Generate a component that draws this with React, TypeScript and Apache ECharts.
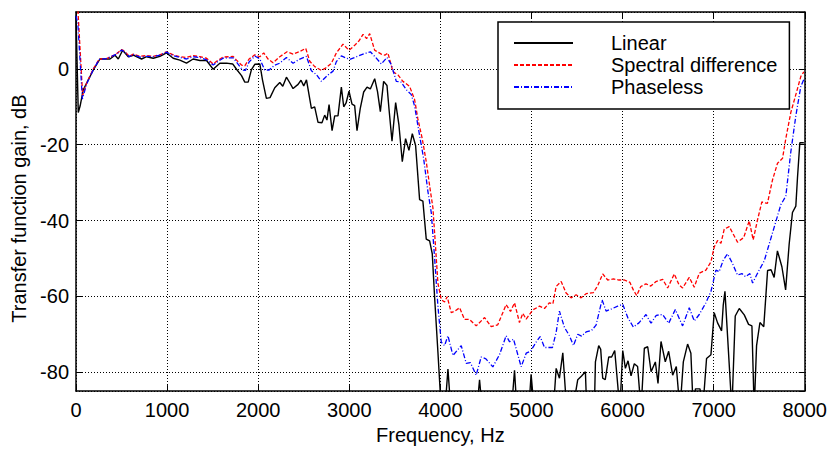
import React, { useEffect, useRef } from "react";
import * as echarts from "echarts";

const seriesNames = ["Linear", "Spectral difference", "Phaseless"];
const freqTicks = [0, 1000, 2000, 3000, 4000, 5000, 6000, 7000, 8000];

const linearFreq = [0, 25, 45, 80, 190, 263, 373, 428, 464, 512, 574, 629, 720, 775, 848, 921, 994, 1067, 1140, 1213, 1286, 1360, 1433, 1506, 1579, 1652, 1720, 1762, 1817, 1853, 1890, 1926, 1963, 2018, 2047, 2090, 2130, 2182, 2237, 2270, 2310, 2345, 2383, 2438, 2470, 2500, 2530, 2584, 2620, 2657, 2700, 2730, 2755, 2778, 2811, 2840, 2876, 2913, 2939, 2965, 2997, 3030, 3059, 3085, 3120, 3158, 3195, 3231, 3279, 3310, 3341, 3377, 3414, 3436, 3469, 3509, 3545, 3582, 3618, 3655, 3692, 3728, 3772, 3808, 3845, 3882, 3911, 3936, 3973, 4010, 4050, 4083, 4115, 4400, 4430, 4460, 4780, 4814, 4840, 4970, 4996, 5030, 5240, 5271, 5307, 5344, 5387, 5480, 5508, 5550, 5592, 5607, 5690, 5702, 5738, 5760, 5782, 5810, 5848, 5880, 5914, 5947, 5970, 6002, 6031, 6060, 6093, 6129, 6165, 6203, 6239, 6276, 6313, 6360, 6389, 6422, 6469, 6506, 6550, 6590, 6630, 6667, 6714, 6750, 6776, 6800, 6850, 6880, 6922, 6970, 7006, 7043, 7087, 7105, 7124, 7200, 7237, 7281, 7336, 7383, 7420, 7445, 7471, 7508, 7550, 7592, 7630, 7664, 7700, 7749, 7790, 7829, 7865, 7902, 7920, 7946, 7990];
const linearGain = [14, -11.5, -9.8, -5.5, -0.3, 2.6, 2.6, 3.6, 2.6, 4.9, 3.2, 3.6, 2.6, 3.2, 2.8, 3.3, 4.2, 2.8, 2.3, 1.5, 2.6, 2.2, 2.2, -0.1, 1.5, 1.5, 1.3, -0.1, -1.8, -3.5, -3.5, -0.2, 1.2, 1.3, -2.9, -7.8, -7.6, -5, -3.6, -4.6, -2.2, -3.6, -5.2, -4.1, -3.0, -4.5, -2.9, -10.4, -10, -14.1, -14.2, -12.2, -13.5, -9.4, -16.3, -12.4, -12.4, -4.8, -10, -9, -5.9, -9.3, -9.7, -16.3, -10.5, -6.1, -4.8, -5.3, -2.6, -6, -11.3, -3.3, -4.4, -10.6, -19.1, -8.9, -14.8, -24.5, -18.4, -21.5, -17.1, -20.2, -34.5, -34.9, -44.9, -45.4, -48.8, -60, -74.7, -90, -90, -79.2, -90, -90, -82, -90, -90, -79.5, -90, -90, -80.6, -90, -90, -79, -81.6, -74.9, -90, -86, -82, -81, -79.9, -90, -90, -77.3, -73, -74, -81.6, -82, -76, -76, -74.3, -83.4, -90, -74.3, -79, -77, -81, -77.8, -78.5, -90, -73.7, -73.3, -79.9, -77.3, -83, -71.9, -77.3, -74.5, -80.8, -78.5, -90, -77.3, -72.6, -75, -90, -84.4, -84.4, -90, -76.4, -75.4, -64.3, -67, -69.1, -62.4, -58.7, -90, -65.2, -63.2, -64.9, -67.4, -67.8, -90, -73, -66.9, -68, -53.2, -53, -55, -48, -52.2, -58.3, -46.2, -37.9, -36.2, -28.8, -19.5, -19.5];

const spectralFreq = [0, 22, 73, 117, 190, 256, 336, 391, 440, 501, 540, 585, 629, 700, 775, 848, 921, 994, 1067, 1140, 1213, 1286, 1360, 1433, 1506, 1560, 1615, 1670, 1725, 1762, 1817, 1853, 1900, 1963, 2018, 2061, 2108, 2163, 2237, 2317, 2383, 2450, 2522, 2566, 2621, 2694, 2740, 2804, 2858, 2931, 2997, 3059, 3110, 3151, 3190, 3224, 3279, 3352, 3390, 3424, 3479, 3534, 3589, 3662, 3717, 3753, 3801, 3845, 3889, 3918, 3947, 3973, 4010, 4046, 4075, 4119, 4165, 4211, 4265, 4320, 4393, 4485, 4558, 4630, 4722, 4770, 4814, 4868, 4905, 4942, 5014, 5088, 5143, 5197, 5235, 5271, 5326, 5380, 5435, 5490, 5545, 5600, 5680, 5727, 5782, 5837, 5900, 5960, 6020, 6080, 6118, 6155, 6200, 6257, 6310, 6367, 6440, 6495, 6568, 6620, 6659, 6732, 6787, 6842, 6915, 6970, 7006, 7043, 7080, 7116, 7171, 7262, 7330, 7390, 7434, 7480, 7529, 7590, 7646, 7701, 7756, 7792, 7847, 7902, 7957, 7990];
const spectralGain = [25, 15, -7, -3.7, 0, 2.6, 2.7, 3.3, 3.9, 5.1, 4.5, 3.3, 3.9, 3.3, 3.5, 3.3, 3.7, 4.5, 3.7, 3.2, 3.0, 3.5, 3.2, 2.8, 1.3, 2.3, 3.1, 3.2, 3.3, 2.3, 1.0, 0.8, 2.6, 3.7, 3.2, 4.2, 2.6, 1.6, 3.2, 4.5, 3.9, 4.5, 5.4, 2.0, 0.6, -0.4, 0.2, 1.5, 4.2, 6.5, 4.9, 6.2, 7.5, 9.1, 8.0, 9.3, 4.9, 3.9, 3.6, 4.2, -0.7, -1.6, -3.3, -4.6, -8.1, -13.2, -18.4, -24.5, -32, -36.6, -47, -56.5, -60.9, -61.5, -60.1, -64.3, -63.8, -63, -66.1, -66.1, -67.8, -65.6, -68, -67.5, -62.2, -64, -61.7, -66.9, -64.5, -66, -63.6, -62.6, -63.2, -61.7, -62, -57.4, -56.1, -59.1, -60.4, -59.6, -60.4, -59.3, -59, -57.2, -54.1, -55.7, -55.4, -55.7, -55.7, -56.3, -58.3, -59.8, -57.4, -56.7, -57.3, -56.1, -55.5, -57.8, -54.1, -57, -57.8, -55, -57.6, -53.9, -53.1, -50.9, -47, -45.3, -46, -42.3, -41.6, -45.7, -44.5, -40.1, -45.1, -40, -35.1, -35.5, -29.3, -24.9, -23.6, -18.4, -11.5, -6.8, -2, -0.8];

const phaselessFreq = [0, 20, 70, 117, 190, 256, 336, 391, 440, 501, 540, 585, 629, 700, 775, 848, 921, 994, 1067, 1140, 1213, 1286, 1360, 1433, 1506, 1560, 1615, 1670, 1725, 1762, 1827, 1860, 1900, 1963, 2018, 2072, 2120, 2182, 2237, 2310, 2383, 2450, 2530, 2584, 2639, 2694, 2740, 2767, 2822, 2858, 2913, 3004, 3080, 3151, 3231, 3290, 3352, 3414, 3462, 3516, 3570, 3626, 3681, 3717, 3772, 3816, 3863, 3900, 3936, 3973, 4010, 4046, 4083, 4138, 4229, 4284, 4330, 4393, 4448, 4500, 4576, 4649, 4722, 4760, 4803, 4887, 4942, 4990, 5051, 5095, 5143, 5230, 5271, 5307, 5362, 5417, 5461, 5508, 5550, 5600, 5660, 5709, 5775, 5819, 5880, 5947, 6002, 6057, 6118, 6180, 6257, 6313, 6370, 6440, 6506, 6579, 6659, 6732, 6787, 6842, 6915, 6970, 7025, 7060, 7105, 7152, 7200, 7262, 7310, 7350, 7398, 7427, 7480, 7556, 7600, 7664, 7738, 7792, 7847, 7902, 7957, 7990];
const phaselessGain = [14, 12, -8, -4, -0.2, 2.5, 2.7, 3.3, 3.8, 5.0, 4.3, 3.2, 3.8, 3.1, 3.3, 3.2, 3.6, 4.4, 3.5, 3.0, 2.6, 3.2, 3.0, 2.4, 1.0, 2.0, 2.8, 2.9, 2.9, 1.8, -0.3, -0.4, 1.8, 3.4, 2.6, -0.3, -0.3, 1.0, 1.5, 3.0, 1.5, 2.5, 3.3, -0.5, -1.5, -3.3, -2.2, -1.6, -0.6, 1.9, 3.4, 2.5, 3.2, 3.9, 4.5, 3.0, 1.3, 3.0, 1.1, -3.3, -3.5, -5.5, -6.8, -9.8, -17.6, -23.6, -32.3, -37.9, -49.6, -62.6, -72.1, -73, -70.4, -75.6, -73, -77.7, -77.5, -80.8, -76, -76.5, -78.6, -75.4, -70.4, -72, -71.3, -78.6, -75, -74.5, -72.1, -70.6, -73.5, -73.5, -69.5, -63.9, -68.2, -70.4, -73, -70, -70.5, -69.4, -69, -67.6, -60.9, -63.9, -63.3, -62.6, -62.1, -65.6, -68.1, -67, -64.8, -67.1, -65, -64.8, -67.1, -63.5, -67.8, -63, -66.5, -64.8, -61.7, -58.7, -53.1, -53.5, -50.5, -48.8, -51, -54.4, -54, -54.8, -54, -56.5, -54, -50.6, -47, -41.8, -35.8, -33.6, -21.9, -12.4, -4.6, -2.8];

const zip = (xs: number[], ys: number[]) => xs.map((x, i) => [x, ys[i]]);

const FONT = "'Liberation Sans', Arial, sans-serif";

export default function App() {
  const ref = useRef<HTMLDivElement>(null);
  useEffect(() => {
    if (!ref.current) return;
    const chart = echarts.init(ref.current, undefined, { renderer: "svg" });
    const axisLine = { show: true, onZero: false, lineStyle: { color: "#000", width: 1.5 } };
    const axisTick = { show: true, inside: true, length: 6, lineStyle: { color: "#000", width: 1 } };
    const splitLine = { show: true, lineStyle: { color: "#000", type: [1, 2], width: 1 } };
    const yLabelFmt = (v: number) => (v % 20 === 0 ? String(v) : "");
    chart.setOption({
      animation: false,
      backgroundColor: "#fff",
      textStyle: { fontFamily: FONT },
      grid: { left: 76, right: 24, top: 12, bottom: 54 },
      legend: {
        data: seriesNames,
        orient: "vertical",
        left: 498,
        top: 22,
        itemWidth: 59,
        itemHeight: 14,
        itemGap: 2,
        padding: [11, 12, 12, 15],
        backgroundColor: "#fff",
        borderColor: "#000",
        borderWidth: 1.5,
        borderRadius: 0,
        itemStyle: { opacity: 0 },
        textStyle: { fontSize: 20, color: "#000", fontFamily: FONT, padding: [0, 0, 0, 33] },
      },
      xAxis: [
        {
          type: "value",
          min: freqTicks[0],
          max: freqTicks[freqTicks.length - 1],
          interval: 1000,
          position: "bottom",
          axisLine,
          axisTick,
          splitLine,
          axisLabel: { fontSize: 20, color: "#000", margin: 9, fontFamily: FONT, formatter: (v: number) => String(v) },
          name: "Frequency, Hz",
          nameLocation: "middle",
          nameGap: 32,
          nameTextStyle: { fontSize: 20, color: "#000", fontFamily: FONT },
        },
        {
          type: "value",
          min: freqTicks[0],
          max: freqTicks[freqTicks.length - 1],
          interval: 1000,
          position: "top",
          axisLine,
          axisTick,
          splitLine: { show: false },
          axisLabel: { show: false },
        },
      ],
      yAxis: [
        {
          type: "value",
          min: -85,
          max: 15,
          splitNumber: 5,
          position: "left",
          axisLine,
          axisTick,
          splitLine,
          axisLabel: { fontSize: 20, color: "#000", margin: 7, fontFamily: FONT, formatter: yLabelFmt, showMinLabel: false, showMaxLabel: false },
          name: "Transfer function gain, dB",
          nameLocation: "middle",
          nameGap: 44,
          nameTextStyle: { fontSize: 20, color: "#000", fontFamily: FONT, padding: [0, 14, 0, 0] },
        },
        {
          type: "value",
          min: -85,
          max: 15,
          splitNumber: 5,
          position: "right",
          axisLine,
          axisTick,
          splitLine: { show: false },
          axisLabel: { show: false },
        },
      ],
      series: [
        {
          name: seriesNames[0],
          type: "line",
          data: zip(linearFreq, linearGain),
          symbol: "none",
          clip: true,
          lineStyle: { color: "#000", width: 1.4, type: "solid" },
          itemStyle: { color: "#000" },
        },
        {
          name: seriesNames[1],
          type: "line",
          data: zip(spectralFreq, spectralGain),
          symbol: "none",
          clip: true,
          lineStyle: { color: "#ff0000", width: 1.3, type: [4, 2] },
          itemStyle: { color: "#ff0000" },
        },
        {
          name: seriesNames[2],
          type: "line",
          data: zip(phaselessFreq, phaselessGain),
          symbol: "none",
          clip: true,
          lineStyle: { color: "#0000ff", width: 1.3, type: [5, 2, 1, 2] },
          itemStyle: { color: "#0000ff" },
        },
      ],
    });
    return () => chart.dispose();
  }, []);
  return (
    <div
      ref={ref}
      style={{ position: "absolute", left: 0, top: 0, width: 830, height: 450, background: "#fff" }}
    />
  );
}
